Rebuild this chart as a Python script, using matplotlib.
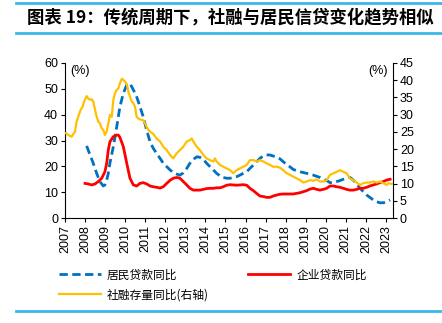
import matplotlib
matplotlib.use('Agg')
import matplotlib.pyplot as plt
from matplotlib.lines import Line2D

plt.rcParams['font.family'] = ['Liberation Sans', 'Noto Sans CJK SC', 'DejaVu Sans']

# 居民贷款同比 (左轴, %)
hh_x = [2008.08, 2008.25, 2008.41, 2008.58, 2008.74, 2008.91, 2008.99, 2009.08, 2009.16, 2009.24,
        2009.41, 2009.58, 2009.74, 2009.91, 2010.08, 2010.24, 2010.41, 2010.57, 2010.74, 2010.90,
        2011.07, 2011.24, 2011.40, 2011.57, 2011.74, 2011.90, 2012.07, 2012.24, 2012.40, 2012.57,
        2012.73, 2012.90, 2013.07, 2013.23, 2013.40, 2013.57, 2013.73, 2013.90, 2014.06, 2014.23,
        2014.40, 2014.56, 2014.73, 2014.89, 2015.06, 2015.23, 2015.39, 2015.56, 2015.72, 2015.89,
        2016.06, 2016.22, 2016.39, 2016.56, 2016.72, 2016.89, 2017.05, 2017.22, 2017.38, 2017.55,
        2017.72, 2017.88, 2018.05, 2018.22, 2018.38, 2018.72, 2019.05, 2019.38, 2019.71, 2020.05,
        2020.21, 2020.38, 2020.54, 2020.71, 2020.88, 2021.04, 2021.21, 2021.37, 2021.54, 2021.71,
        2021.87, 2022.04, 2022.20, 2022.37, 2022.54, 2022.70, 2022.87, 2023.04, 2023.21]
hh_y = [27.9, 24.4, 21.2, 17.3, 14.1, 12.4, 12.8, 14.7, 17.3, 21.2,
        27.6, 35.3, 43.1, 48.3, 51.5, 52.1, 49.6, 47.0, 43.1, 39.2,
        34.1, 29.5, 27.0, 25.0, 23.1, 21.2, 19.9, 18.6, 17.6, 17.0,
        16.6, 17.5, 19.2, 21.2, 22.7, 23.7, 23.5, 22.7, 21.2, 19.9,
        18.6, 17.3, 16.3, 15.7, 15.4, 15.4, 15.7, 16.0, 16.6, 17.3,
        17.9, 19.2, 20.5, 21.8, 23.1, 24.0, 24.4, 24.4, 24.0, 23.5,
        22.9, 21.8, 20.8, 19.8, 18.8, 17.9, 17.3, 16.6, 15.7, 14.5,
        13.7, 13.7, 14.1, 14.5, 15.0, 15.4, 15.7, 14.7, 13.2, 11.5,
        10.2, 8.9, 8.0, 7.0, 6.3, 5.9, 5.9, 6.3, 7.0]

# 企业贷款同比 (左轴, %)
corp_x = [2008.00, 2008.16, 2008.33, 2008.50, 2008.66, 2008.83, 2008.99, 2009.08, 2009.16, 2009.24,
          2009.41, 2009.58, 2009.66, 2009.74, 2009.91, 2010.08, 2010.24, 2010.41, 2010.57, 2010.74,
          2010.90, 2011.07, 2011.24, 2011.40, 2011.57, 2011.74, 2011.90, 2012.07, 2012.24, 2012.40,
          2012.57, 2012.73, 2012.90, 2013.07, 2013.23, 2013.40, 2013.57, 2013.73, 2013.90, 2014.06,
          2014.23, 2014.40, 2014.56, 2014.73, 2014.89, 2015.06, 2015.23, 2015.39, 2015.56, 2015.72,
          2015.89, 2016.06, 2016.22, 2016.39, 2016.56, 2016.72, 2016.89, 2017.05, 2017.22, 2017.38,
          2017.55, 2017.72, 2017.88, 2018.05, 2018.38, 2018.72, 2019.05, 2019.21, 2019.38, 2019.55,
          2019.71, 2019.88, 2020.05, 2020.21, 2020.38, 2020.54, 2020.71, 2020.88, 2021.04, 2021.21,
          2021.37, 2021.54, 2021.71, 2021.87, 2022.04, 2022.20, 2022.37, 2022.54, 2022.70, 2022.87,
          2023.04, 2023.21]
corp_y = [13.4, 13.2, 12.8, 13.2, 14.1, 15.4, 17.9, 21.2, 26.3, 29.5,
          31.5, 32.1, 32.1, 31.2, 27.6, 21.2, 15.4, 12.8, 12.4, 13.4,
          13.7, 13.2, 12.4, 12.1, 11.9, 11.6, 12.1, 13.4, 14.6, 15.4,
          15.7, 15.4, 14.1, 12.8, 11.5, 10.8, 10.8, 10.8, 11.1, 11.4,
          11.5, 11.5, 11.7, 11.7, 12.1, 12.7, 12.9, 12.8, 12.7, 12.8,
          12.9, 12.7, 11.5, 10.6, 9.5, 8.5, 8.3, 8.0, 8.0, 8.5,
          8.9, 9.2, 9.3, 9.3, 9.3, 9.8, 10.6, 11.2, 11.5, 11.1,
          10.8, 11.1, 11.5, 12.4, 12.4, 12.1, 11.9, 11.5, 11.1, 10.8,
          10.8, 11.1, 11.5, 11.5, 11.9, 12.4, 12.8, 13.2, 13.7, 14.1,
          14.7, 15.0]

# 社融存量同比 (右轴, %)
tsf_x = [2007.05, 2007.17, 2007.33, 2007.42, 2007.50, 2007.58, 2007.66, 2007.78, 2007.88, 2007.95,
         2008.08, 2008.16, 2008.25, 2008.33, 2008.41, 2008.50, 2008.58, 2008.66, 2008.74, 2008.83,
         2008.91, 2008.99, 2009.08, 2009.16, 2009.24, 2009.33, 2009.41, 2009.49, 2009.58, 2009.66,
         2009.74, 2009.83, 2009.91, 2009.99, 2010.08, 2010.16, 2010.24, 2010.33, 2010.41, 2010.49,
         2010.57, 2010.65, 2010.74, 2010.90, 2010.99, 2011.07, 2011.15, 2011.24, 2011.40, 2011.57,
         2011.74, 2011.90, 2012.07, 2012.24, 2012.40, 2012.57, 2012.73, 2012.90, 2013.07, 2013.23,
         2013.32, 2013.40, 2013.57, 2013.73, 2013.90, 2014.06, 2014.23, 2014.40, 2014.48, 2014.56,
         2014.73, 2014.89, 2015.06, 2015.23, 2015.39, 2015.56, 2015.72, 2015.89, 2016.06, 2016.22,
         2016.39, 2016.56, 2016.72, 2016.89, 2017.05, 2017.22, 2017.38, 2017.55, 2017.72, 2017.88,
         2018.05, 2018.22, 2018.38, 2018.55, 2018.72, 2018.88, 2019.05, 2019.21, 2019.38, 2019.55,
         2019.71, 2019.88, 2020.05, 2020.21, 2020.38, 2020.54, 2020.71, 2020.88, 2021.04, 2021.21,
         2021.37, 2021.54, 2021.71, 2021.87, 2022.04, 2022.20, 2022.37, 2022.54, 2022.70, 2022.87,
         2023.04, 2023.12, 2023.29]
tsf_y = [24.6, 24.1, 23.6, 24.4, 25.1, 28.0, 29.4, 31.4, 32.3, 33.8,
         35.4, 34.7, 34.3, 34.5, 33.8, 31.4, 29.4, 28.0, 27.5, 26.0,
         25.6, 24.1, 25.1, 27.5, 29.9, 29.4, 34.3, 36.2, 37.2, 37.6,
         39.1, 40.4, 40.1, 39.6, 38.9, 36.7, 35.2, 33.8, 33.3, 32.3,
         29.4, 28.9, 28.6, 28.4, 27.5, 26.5, 25.6, 25.1, 24.4, 23.1,
         22.2, 20.7, 19.7, 18.3, 17.3, 18.8, 19.7, 20.7, 22.2, 22.6,
         23.1, 22.2, 20.7, 19.7, 18.3, 17.3, 16.8, 16.4, 17.3, 16.4,
         15.4, 14.9, 14.4, 13.9, 13.0, 13.9, 14.4, 14.9, 15.4, 16.8,
         16.8, 16.4, 16.8, 16.4, 15.9, 15.4, 14.9, 14.9, 14.6, 13.9,
         13.0, 12.5, 12.0, 11.5, 11.0, 10.3, 10.6, 11.0, 10.8, 11.2,
         10.6, 10.6, 11.0, 12.5, 13.0, 13.4, 13.9, 13.4, 13.0, 11.5,
         11.0, 10.3, 9.6, 10.1, 10.3, 10.3, 10.6, 10.3, 10.6, 10.1,
         9.6, 10.1, 9.9]

years = list(range(2007, 2024))

fig = plt.figure(figsize=(4.42, 3.23), dpi=100)
ax = fig.add_axes([0.147, 0.325, 0.742, 0.48])
ax2 = ax.twinx()

l1, = ax.plot(hh_x, hh_y, color='#0070C0', lw=2.0, ls=(0, (3, 1.6)), label='居民贷款同比')
l2, = ax.plot(corp_x, corp_y, color='#FF0000', lw=2.0, label='企业贷款同比')
l3, = ax2.plot(tsf_x, tsf_y, color='#FFC000', lw=1.6, label='社融存量同比(右轴)')

ax.set_xlim(2007, 2023.35)
ax.set_ylim(0, 60)
ax2.set_ylim(0, 45)
ax.set_yticks(range(0, 61, 10))
ax2.set_yticks(range(0, 46, 5))
ax.set_xticks(years)
ax.set_xticklabels([str(y) for y in years], rotation=90)

for a in (ax, ax2):
    a.spines['top'].set_visible(False)
    a.tick_params(direction='out', length=3, width=0.8, labelsize=9, pad=2)
ax.spines['right'].set_visible(False)
ax2.spines['left'].set_visible(False)
ax2.spines['bottom'].set_visible(False)

ax.text(0.015, 0.99, '(%)', transform=ax.transAxes, fontsize=9, va='top', ha='left')
ax2.text(0.985, 0.99, '(%)', transform=ax2.transAxes, fontsize=9, va='top', ha='right')

fig.text(0.061, 1 - 17 / 323, '图表 19：传统周期下，社融与居民信贷变化趋势相似',
         fontsize=12.5, fontweight='bold', va='center', ha='left',
         family=['Noto Sans CJK SC', 'DejaVu Sans'])

rule = '#3DB7EA'
for yy in (1 - 3 / 323, 1 - 33 / 323, 1 - 311 / 323):
    fig.add_artist(Line2D([16 / 442, 1], [yy, yy], color=rule, lw=2.0, transform=fig.transFigure))

leg = fig.legend(handles=[l1, l3, l2], loc='upper left', bbox_to_anchor=(48 / 442, 1 - 258 / 323),
                 ncol=2, frameon=False, handlelength=3.6, handletextpad=0.5,
                 columnspacing=3.3, labelspacing=0.55,
                 prop={'family': ['Noto Sans CJK SC', 'DejaVu Sans'], 'size': 8.5})

fig.savefig('out.png', dpi=100)
